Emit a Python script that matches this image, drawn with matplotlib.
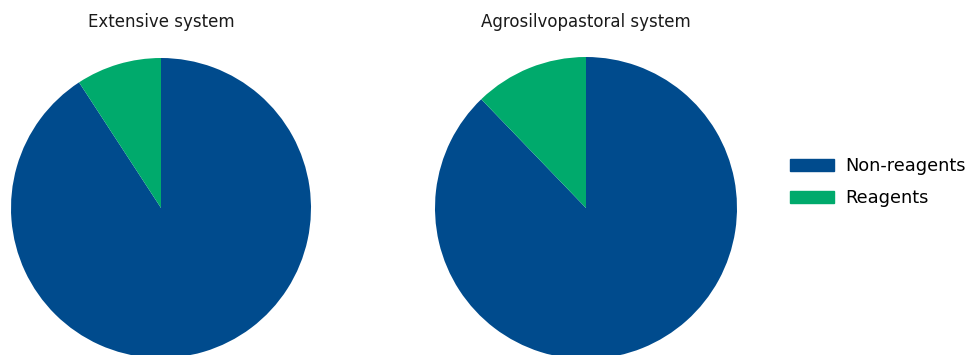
import matplotlib.pyplot as plt
from matplotlib.patches import Patch

labels = ['Non-reagents', 'Reagents']
titles = ['Extensive system', 'Agrosilvopastoral system']
extensive = [90.8, 9.2]
agrosilvo = [87.8, 12.2]
colors = ['#004b8d', '#00aa6c']

W, H = 967, 355
fig = plt.figure(figsize=(W / 100, H / 100), dpi=100)
plt.rcParams['font.family'] = ['DejaVu Sans']

# pie boxes in pixels: (left, top, size)
boxes = [(11, 58, 300), (435, 57, 302)]
for (l, t, s), vals, title in zip(boxes, [extensive, agrosilvo], titles):
    ax = fig.add_axes([l / W, (H - t - s) / H, s / W, s / H])
    ax.pie(vals, colors=colors, startangle=90, counterclock=False,
           wedgeprops=dict(linewidth=0))
    ax.set_aspect('equal')
    ax.set_xlim(-1, 1)
    ax.set_ylim(-1, 1)
    fig.text((l + s / 2) / W, 1 - 22 / H, title, ha='center', va='center',
             fontsize=12, color='#1a1a1a')

handles = [Patch(color=c, label=lab) for c, lab in zip(colors, labels)]
fig.legend(handles=handles, loc='center left', bbox_to_anchor=(790 / W, 1 - 182 / H),
           frameon=False, fontsize=12.8, handlelength=2.5, handleheight=0.66,
           labelspacing=0.78, handletextpad=0.62, borderpad=0, borderaxespad=0)

fig.savefig('out.png', dpi=100)
